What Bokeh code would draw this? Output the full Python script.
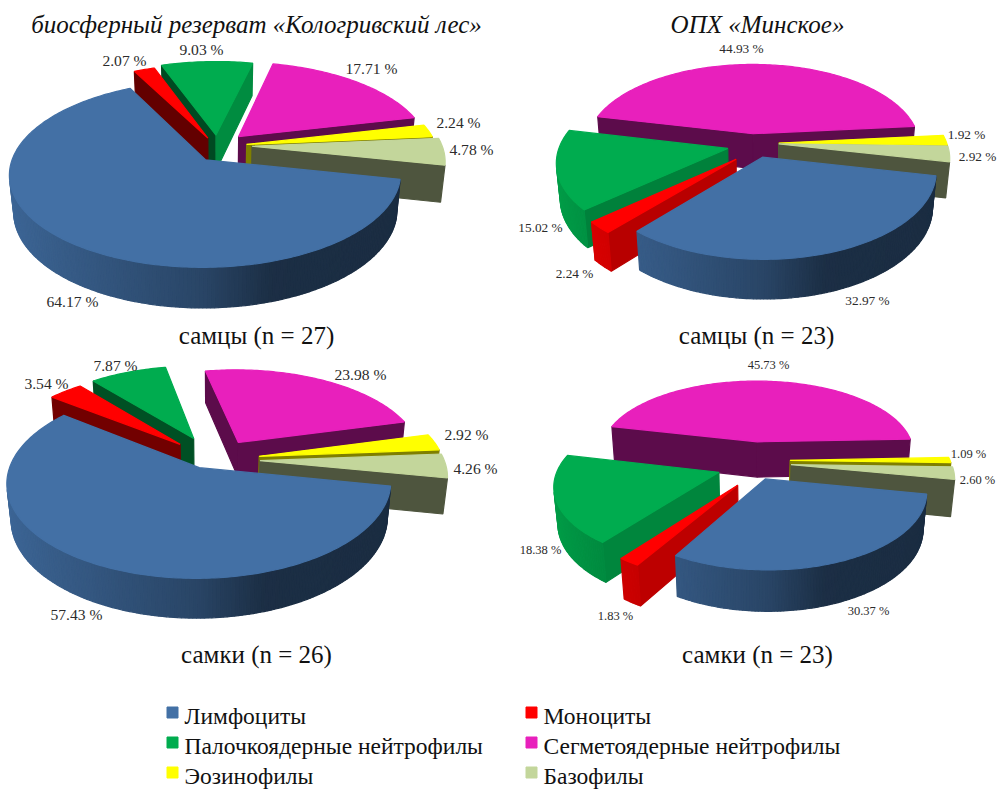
import numpy as np
from bokeh.core.properties import value
from bokeh.embed import file_html
from bokeh.models import ColumnDataSource, Range1d
from bokeh.plotting import figure
from bokeh.resources import INLINE

# Leukocyte formula, percent of cells
categories = ["Лимфоциты", "Моноциты", "Палочкоядерные нейтрофилы",
              "Сегметоядерные нейтрофилы", "Эозинофилы", "Базофилы"]
kologriv_males = [64.17, 2.07, 9.03, 17.71, 2.24, 4.78]
minskoe_males = [32.97, 2.24, 15.02, 44.93, 1.92, 2.92]
kologriv_females = [57.43, 3.54, 7.87, 23.98, 2.92, 4.26]
minskoe_females = [30.37, 1.83, 18.38, 45.73, 1.09, 2.60]

titles = ["биосферный резерват «Кологривский лес»", "ОПХ «Минское»"]
captions = ["самцы (n = 27)", "самцы (n = 23)", "самки (n = 26)", "самки (n = 23)"]

colors = ["#4370A5", "#FF0000", "#00AC4F", "#E820BC", "#FFFF00", "#C3D69B"]
# radial face shade per slice: base level and change with the face's sideways normal
face_shade = [(0.40, 0.0), (0.57, 0.2), (0.62, 0.2), (0.40, 0.0), (0.50, 0.0), (0.40, 0.0)]
draw_order = [3, 2, 1, 4, 5, 0]

PERSPECTIVE = 0.15
DEPTH_SHRINK = 0.02

pies = [
    dict(values=kologriv_males, cx=222, cy=149, rx=190, ry=88, depth=37, start=12, explode=0.145,
         nudge={1: (-4, 0), 2: (-5, -2), 3: (-3, -4), 4: (-3, -3), 5: (2, -4)}, scale={},
         label_px=15.6,
         label_xy=[(72, 301), (124, 60), (201, 49), (371, 68), (458, 122), (471, 149)]),
    dict(values=minskoe_males, cx=751, cy=145, rx=168, ry=83, depth=36, start=12, explode=0.145,
         nudge={0: (3, 0), 1: (2, 5), 4: (3, -2), 5: (3, -3)}, scale={},
         label_px=13.3,
         label_xy=[(867, 300), (574, 273), (540, 227), (741, 48), (966, 134), (977, 156)]),
    dict(values=kologriv_females, cx=216, cy=461, rx=184, ry=88, depth=36, start=11, explode=0.22,
         nudge={0: (0, -12), 1: (-8, -4), 2: (-6, -6), 3: (1, -3), 4: (3, -2), 5: (3, -2)}, scale={},
         label_px=15.6,
         label_xy=[(76, 614), (46, 383), (115, 365), (360, 374), (466, 434), (475, 468)]),
    dict(values=minskoe_females, cx=755, cy=460, rx=160, ry=75, depth=37, start=11, explode=0.26,
         nudge={0: (-8, 0), 1: (6, 8), 2: (3, 5), 3: (-2, 0), 4: (-7, 0), 5: (-6, 2)}, scale={0: 0.96},
         label_px=12.5,
         label_xy=[(868, 610), (615, 615), (540, 549), (768, 364), (968, 453), (977, 479)]),
]


def shaded(hex_color, s):
    r, g, b = (int(hex_color[i:i + 2], 16) for i in (1, 3, 5))
    return "#%02x%02x%02x" % (int(r * s), int(g * s), int(b * s))


def wall_shade(u):
    return float(np.interp(u, [-1, -0.5, 0, 0.3, 1], [0.92, 0.78, 0.62, 0.42, 0.40]))


def project(pie, u, v, z):
    w = 1 / (1 + PERSPECTIVE * v + DEPTH_SHRINK * z)
    return pie["cx"] + pie["rx"] * u * w, pie["cy"] + (-pie["ry"] * v + pie["depth"] * z) * w


def signed_area(xs, ys):
    return sum(xs[i] * ys[(i + 1) % len(xs)] - xs[(i + 1) % len(xs)] * ys[i] for i in range(len(xs)))


def slice_patches(pie, index, a0, a1):
    """Walls that face the viewer, then the top face, of one exploded slice."""
    out = []
    mid = np.radians((a0 + a1) / 2)
    off_u = pie["explode"] * np.cos(mid)
    off_v = -pie["explode"] * np.sin(mid)
    ndx, ndy = pie["nudge"].get(index, (0, 0))
    radius = pie["scale"].get(index, 1.0)
    angles = np.radians(np.arange(a0, a1, 1.0).tolist() + [a1])
    ring = [(off_u + radius * np.cos(t), off_v - radius * np.sin(t)) for t in angles]
    apex = (off_u, off_v)

    def point(p, z):
        x, y = project(pie, p[0], p[1], z)
        return x + ndx, y + ndy

    def quad(p, q):
        t0, t1, b1, b0 = point(p, 0), point(q, 0), point(q, 1), point(p, 1)
        return [t0[0], t1[0], b1[0], b0[0]], [t0[1], t1[1], b1[1], b0[1]]

    base = colors[index]
    s0, slope = face_shade[index]
    radial = [(apex, ring[0], np.sin(angles[0])), (ring[-1], apex, -np.sin(angles[-1]))]
    for p, q, nx in radial:
        xs, ys = quad(p, q)
        if signed_area(xs, ys) < 0:
            out.append((xs, ys, shaded(base, s0 + slope * nx)))
    for i in range(len(ring) - 1):
        xs, ys = quad(ring[i], ring[i + 1])
        if signed_area(xs, ys) < 0:
            tm = (angles[i] + angles[i + 1]) / 2
            out.append((xs, ys, shaded(base, wall_shade(np.cos(tm)))))
    top = [apex] + ring
    pts = [point(p, 0) for p in top]
    out.append(([p[0] for p in pts], [p[1] for p in pts], base))
    return out


p = figure(width=1000, height=789, x_range=Range1d(0, 1000), y_range=Range1d(789, 0),
           output_backend="svg", toolbar_location=None, min_border=0,
           background_fill_color="white", border_fill_color="white", outline_line_color=None)
p.axis.visible = False
p.grid.visible = False

SERIF = value("Liberation Serif")

for pie in pies:
    spans = np.array(pie["values"]) * 3.6
    ends = pie["start"] + np.cumsum(spans)
    starts = ends - spans
    xs, ys, fills = [], [], []
    for idx in draw_order:
        for qx, qy, col in slice_patches(pie, idx, starts[idx], ends[idx]):
            xs.append(qx)
            ys.append(qy)
            fills.append(col)
    p.patches("xs", "ys", fill_color="fills", line_color="fills", line_width=1.2,
              source=ColumnDataSource(dict(xs=xs, ys=ys, fills=fills)))
    p.text([xy[0] for xy in pie["label_xy"]], [xy[1] for xy in pie["label_xy"]],
           text=[f"{v:.2f} %" for v in pie["values"]], text_font=SERIF,
           text_font_size=f'{pie["label_px"]}px', text_color="#2b2b2b",
           text_align="center", text_baseline="middle")

p.text([256, 757], [24, 24], text=titles, text_font=SERIF, text_font_style="italic",
       text_font_size="25px", text_color="#111111", text_align="center", text_baseline="middle")
p.text([256, 756, 256, 757], [335, 335, 654, 654], text=captions, text_font=SERIF,
       text_font_size="25px", text_color="#111111", text_align="center", text_baseline="middle")

# legend: two columns, three rows, filled row by row
legend_x = [172, 531, 172, 531, 172, 531]
legend_y = [712, 712, 742, 742, 772, 772]
p.scatter(legend_x, legend_y, marker="square", size=11, color=colors)
p.text([x + 12 for x in legend_x], [y + 3 for y in legend_y], text=categories, text_font=SERIF,
       text_font_size="23.5px", text_color="#111111", text_align="left", text_baseline="middle")

open("out.html", "w").write(file_html(p, INLINE))
